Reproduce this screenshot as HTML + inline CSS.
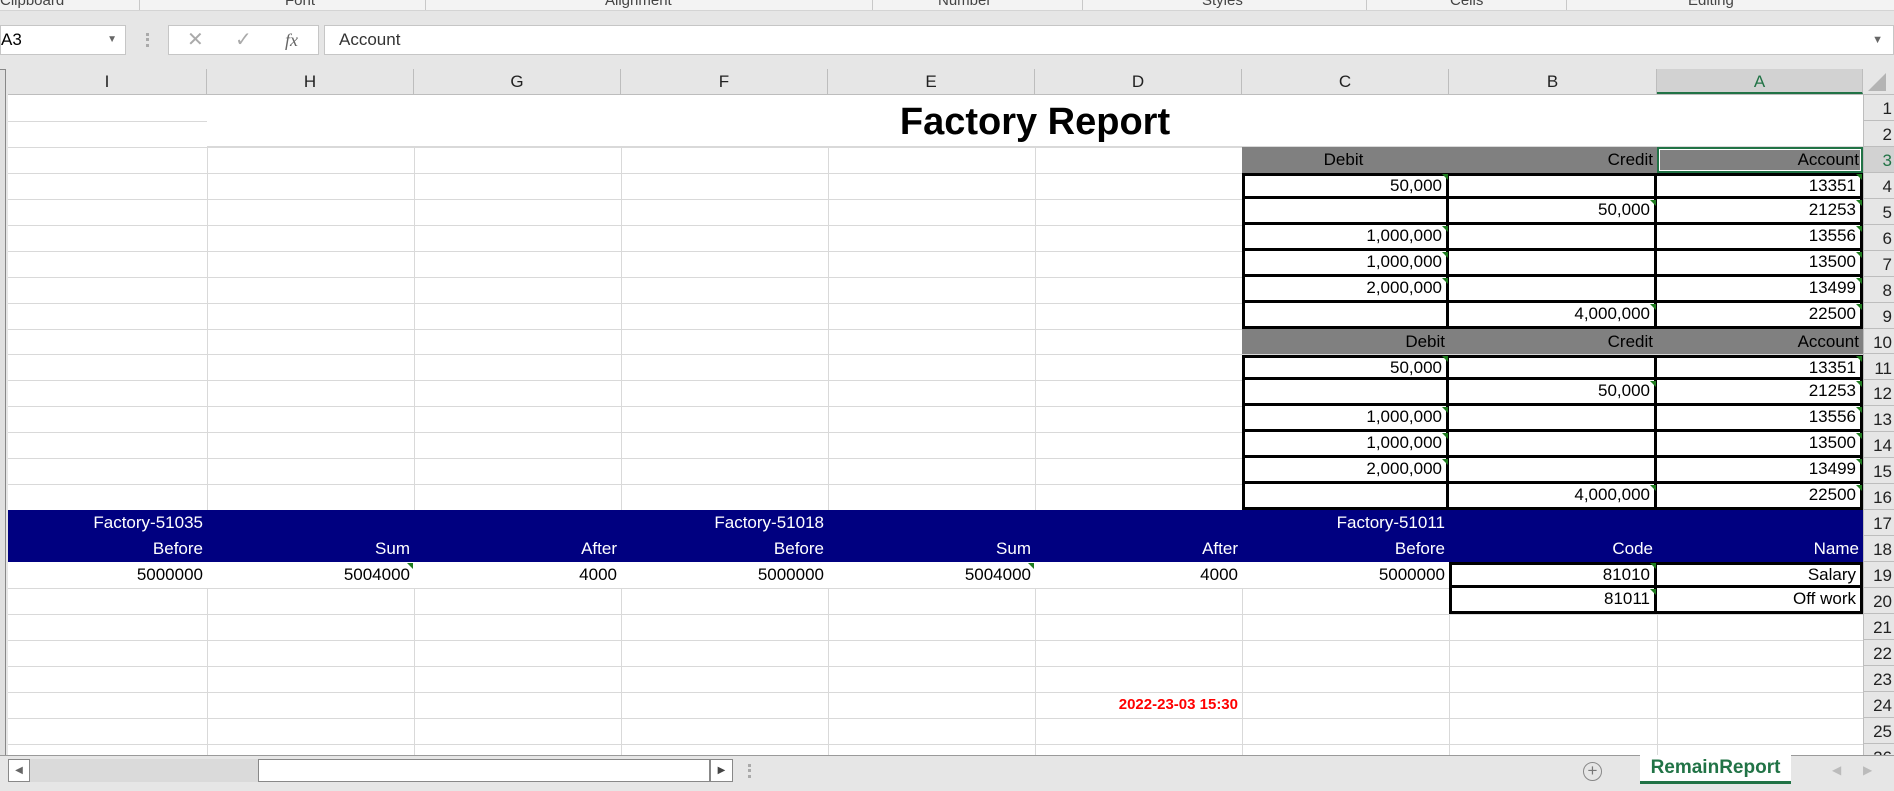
<!DOCTYPE html>
<html><head><meta charset="utf-8">
<style>
*{margin:0;padding:0;box-sizing:border-box}
body{width:1894px;height:791px;overflow:hidden;background:#e6e6e6;font-family:"Liberation Sans Narrow","Liberation Sans",sans-serif;position:relative}
.a{position:absolute}
.cell{position:absolute;font-size:17px;line-height:26px;text-align:right;padding-right:4px;white-space:nowrap;overflow:visible;color:#000}
.tri{position:absolute;width:0;height:0;border-top:6px solid #1e7b1e;border-left:6px solid transparent}
.rib{position:absolute;top:-8px;font-size:15px;color:#444}
.sep{position:absolute;top:0;width:1px;height:10px;background:#c8c8c8}
</style></head><body>
<div class="a" style="left:0;top:0;width:1894px;height:11px;background:#f3f3f3;border-bottom:1px solid #d4d4d4;overflow:hidden">
<span class="rib" style="left:0">Clipboard</span>
<span class="rib" style="left:285px">Font</span>
<span class="rib" style="left:605px">Alignment</span>
<span class="rib" style="left:938px">Number</span>
<span class="rib" style="left:1202px">Styles</span>
<span class="rib" style="left:1450px">Cells</span>
<span class="rib" style="left:1688px">Editing</span>
<div class="sep" style="left:139px"></div><div class="sep" style="left:425px"></div><div class="sep" style="left:872px"></div><div class="sep" style="left:1082px"></div><div class="sep" style="left:1366px"></div><div class="sep" style="left:1566px"></div>
</div>
<div class="a" style="left:0;top:25px;width:126px;height:30px;background:#fff;border:1px solid #c6c6c6;font-family:'Liberation Sans',sans-serif;font-size:17px;line-height:28px;padding-left:0">A3<span style="position:absolute;right:8px;top:0;font-size:10px;color:#666">▼</span></div>
<div class="a" style="left:146px;top:33px;width:3px;height:14px;border-left:3px dotted #aaa"></div>
<div class="a" style="left:168px;top:25px;width:151px;height:30px;background:#fff;border:1px solid #c6c6c6;color:#aaa;font-size:20px;line-height:28px">
<span class="a" style="left:18px">✕</span><span class="a" style="left:66px">✓</span><span class="a" style="left:116px;font-family:'Liberation Serif',serif;font-style:italic;color:#666;font-size:18px">fx</span></div>
<div class="a" style="left:324px;top:25px;width:1570px;height:30px;background:#fff;border:1px solid #c6c6c6;font-family:'Liberation Sans',sans-serif;font-size:17px;line-height:28px;padding-left:14px;color:#333">Account<span style="position:absolute;right:10px;top:0;font-size:11px;color:#666">▼</span></div>
<div class="a" style="left:0;top:69px;width:6px;height:690px;border:1px solid #888;border-left:none;background:#e0e0e0"></div>
<div id="grid" class="a" style="left:8px;top:95px;width:1855px;height:660px;background:#fff;overflow:hidden"></div>
<div id="hdr" class="a" style="left:8px;top:69px;width:1886px;height:26px;background:#e6e6e6;border-bottom:1px solid #bdbdbd"></div>
<div id="rows" class="a" style="left:1863px;top:95px;width:31px;height:660px;background:#e6e6e6;overflow:hidden;border-left:1px solid #bdbdbd"></div>
<div class="a" style="left:1868px;top:73px;width:0;height:0;border-bottom:18px solid #b4b4b4;border-left:18px solid transparent"></div>
<div class="a" style="left:0;top:755px;width:1894px;height:36px;background:#e6e6e6;border-top:1px solid #9a9a9a"></div>
<div class="a" style="left:8px;top:759px;width:22px;height:23px;background:#fff;border:1px solid #888;font-size:10px;line-height:21px;text-align:center;color:#666">◀</div>
<div class="a" style="left:30px;top:759px;width:228px;height:23px;background:#dadada"></div>
<div class="a" style="left:258px;top:759px;width:452px;height:23px;background:#fff;border:1px solid #888"></div>
<div class="a" style="left:710px;top:759px;width:23px;height:23px;background:#fff;border:1px solid #888;font-size:10px;line-height:21px;text-align:center;color:#444">▶</div>
<div class="a" style="left:748px;top:764px;height:14px;border-left:3px dotted #aaa"></div>
<div class="a" style="left:1583px;top:762px;width:19px;height:19px;border:1.5px solid #888;border-radius:50%;text-align:center;line-height:16px;font-size:17px;color:#777">+</div>
<div class="a" style="left:1640px;top:755px;width:151px;height:29px;background:#fff;border-bottom:3px solid #217346;color:#217346;font-weight:bold;font-size:19px;text-align:center;line-height:26px">RemainReport</div>
<div class="a" style="left:1832px;top:763px;color:#bbb;font-size:12px">◀</div>
<div class="a" style="left:1863px;top:763px;color:#bbb;font-size:12px">▶</div>
<script>
const colNames=['I','H','G','F','E','D','C','B','A'];
const colLeft=[0,199,406,613,820,1027,1234,1441,1649,1855];
const RH=25.95;
const g=document.getElementById('grid');
function rt(r){return (r-1)*RH;}
function mk(parent,cls,style,text){const d=document.createElement('div');d.className=cls;d.setAttribute('style',style);if(text!==undefined)d.textContent=text;parent.appendChild(d);return d;}
const hdr=document.getElementById('hdr');
colNames.forEach((c,i)=>{const isA=c==='A';
 const d=mk(hdr,'a',`left:${colLeft[i]}px;top:0;width:${colLeft[i+1]-colLeft[i]}px;height:25px;border-right:1px solid #bdbdbd;text-align:center;font-family:'Liberation Sans',sans-serif;font-size:17px;line-height:26px;color:${isA?'#217346':'#222'};background:${isA?'#d2d2d2':'transparent'};${isA?'border-bottom:2px solid #217346;':''}`,c);
 
 });
const rows=document.getElementById('rows');
for(let r=1;r<=26;r++){const d=mk(rows,'a',`left:0;top:${rt(r)}px;width:31px;height:${RH}px;border-bottom:1px solid #bdbdbd;text-align:right;padding-right:3px;font-family:'Liberation Sans',sans-serif;font-size:17px;line-height:27px;color:${r===3?'#217346':'#222'};background:${r===3?'#d2d2d2':'transparent'}`,String(r));
 
 }
for(let r=1;r<=26;r++){for(let c=0;c<9;c++){
 if(r===1&&c>0)continue;
 mk(g,'a',`left:${colLeft[c]}px;top:${rt(r)}px;width:${colLeft[c+1]-colLeft[c]+1}px;height:${RH+1}px;border-right:1px solid #d9d9d9;border-bottom:1px solid #d9d9d9`);}}
const tt=mk(g,'a',`left:${colLeft[1]}px;top:0;width:${colLeft[9]-colLeft[1]}px;height:${2*RH}px;background:#fff;border-bottom:1px solid #d9d9d9;text-align:center;font-family:'Liberation Sans',sans-serif;font-weight:bold;font-size:38px;line-height:${2*RH+4}px`,'Factory Report');


const tableRows=[['50,000','','13351'],['','50,000','21253'],['1,000,000','','13556'],['1,000,000','','13500'],['2,000,000','','13499'],['','4,000,000','22500']];
const tableHead=['Debit','Credit','Account'];
function cell(r,c,text,extra,name){const d=mk(g,'cell',`left:${colLeft[c]}px;top:${rt(r)}px;width:${colLeft[c+1]-colLeft[c]}px;height:${RH}px;${extra||''}`,text);
 
 
 return d;}
function tri(r,c){mk(g,'tri',`left:${colLeft[c+1]-7}px;top:${rt(r)+1}px`);}
[3,10].forEach((hr,ti)=>{
 tableHead.forEach((h,k)=>{const c=6+k;cell(hr,c,h,`background:#808080;${(ti===0&&k===0)?'text-align:center;':''}`,'table'+(ti+1)+'-header-'+h.toLowerCase());});
 tableRows.forEach((row,ri)=>{const r=hr+1+ri;row.forEach((v,k)=>{const c=6+k;
  const lh=ri>0?22:20;
  cell(r,c,v,'background:#fff;border:3px solid #000;line-height:'+lh+'px;'+(k>0?'border-left-width:0;':'')+(ri>0?'border-top-width:0;':''),'table'+(ti+1)+'-r'+(ri+1)+'-'+tableHead[k].toLowerCase());
  if(v)tri(r,c);});});
});
const sel=mk(g,'a',`left:${colLeft[8]}px;top:${rt(3)}px;width:${colLeft[9]-colLeft[8]}px;height:${RH}px;border:2px solid #217346;outline:1px solid #fff;outline-offset:-3px`);


const band=mk(g,'a',`left:0;top:${rt(17)}px;width:${colLeft[9]}px;height:${2*RH}px;background:#000080`);


const factories=[[0,'Factory-51035'],[3,'Factory-51018'],[6,'Factory-51011']];
factories.forEach(([c,t])=>{cell(17,c,t,'color:#fff','factory-label-'+t.slice(-5));});
const row18=['Before','Sum','After','Before','Sum','After','Before','Code','Name'];
row18.forEach((t,c)=>cell(18,c,t,'color:#fff','col-label-'+colNames[c].toLowerCase()));
mk(g,'a',`left:0;top:${rt(19)}px;width:${colLeft[7]}px;height:${RH}px;background:#fff`);
const row19=['5000000','5004000','4000','5000000','5004000','4000','5000000'];
row19.forEach((t,c)=>{cell(19,c,t,'','value-'+colNames[c].toLowerCase()+'19');});
tri(19,1);tri(19,4);
const codes=['81010','81011'],names=['Salary','Off work'];
codes.forEach((v,i)=>{const lh=i>0?22:20;
 cell(19+i,7,v,'background:#fff;border:3px solid #000;line-height:'+lh+'px;'+(i>0?'border-top-width:0;':''),'code-'+v);tri(19+i,7);
 cell(19+i,8,names[i],'background:#fff;border:3px solid #000;border-left-width:0;line-height:'+lh+'px;'+(i>0?'border-top-width:0;':''),'name-'+(i+1));});
cell(24,5,'2022-23-03 15:30','color:#ff0000;font-weight:bold;font-family:"Liberation Sans",sans-serif;font-size:15px;','report-timestamp');
</script>
</body></html>
